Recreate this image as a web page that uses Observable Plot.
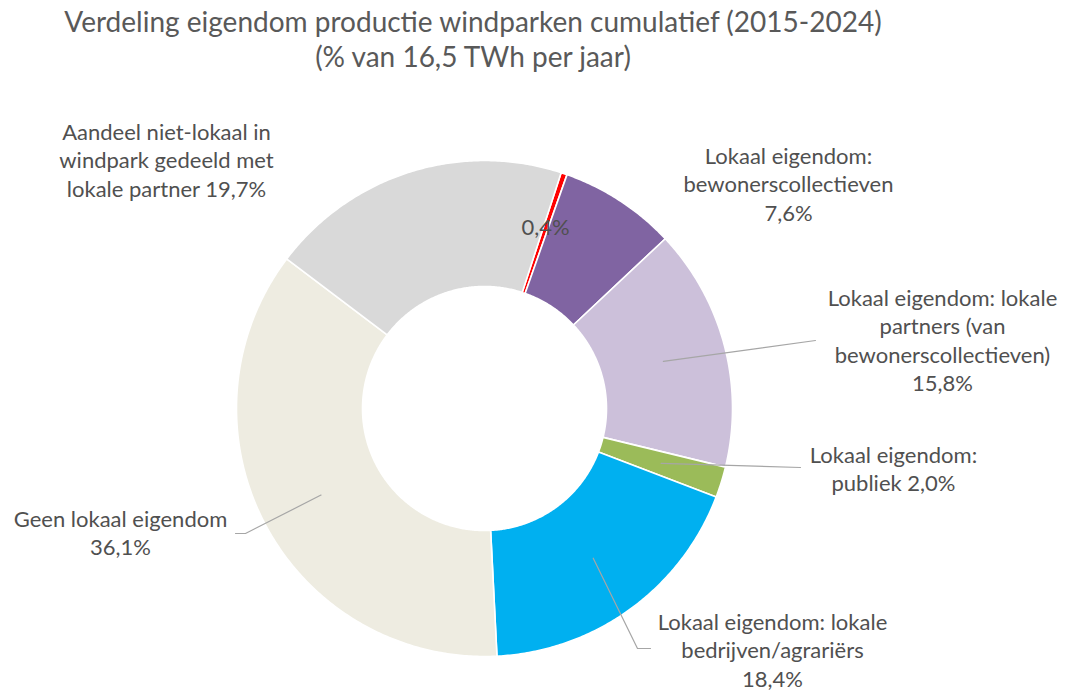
<!DOCTYPE html>
<html><head><meta charset="utf-8">
<script src="https://cdn.jsdelivr.net/npm/d3@7"></script>
<script src="https://cdn.jsdelivr.net/npm/@observablehq/plot@0.6"></script>
<style>
html,body{margin:0;padding:0;background:#fff;}
#title{width:946px;height:90px;box-sizing:border-box;padding-top:4px;text-align:center;color:#595959;font-family:Lato,sans-serif;font-size:28px;line-height:35px;}
#chart svg{display:block;}
</style></head><body>
<div id="title"><div>Verdeling eigendom productie windparken cumulatief (2015-2024)</div><div>(% van 16,5 TWh per jaar)</div></div>
<div id="chart"></div>
<script>
// ---- data (clockwise order) ----
const categories = ["Overig", "Lokaal eigendom: bewonerscollectieven", "Lokaal eigendom: lokale partners (van bewonerscollectieven)", "Lokaal eigendom: publiek", "Lokaal eigendom: lokale bedrijven/agrariërs", "Geen lokaal eigendom", "Aandeel niet-lokaal in windpark gedeeld met lokale partner"];
const values = [0.4, 7.6, 15.8, 2.0, 18.4, 36.1, 19.7];
const colors = ["#FF0000", "#8064A2", "#CCC0DA", "#9BBB59", "#00B0F0", "#EEECE1", "#D9D9D9"];
const labelLines = [
  ["{v}"],
  ["Lokaal eigendom:", "bewonerscollectieven", "{v}"],
  ["Lokaal eigendom: lokale", "partners (van", "bewonerscollectieven)", "{v}"],
  ["Lokaal eigendom:", "publiek {v}"],
  ["Lokaal eigendom: lokale", "bedrijven/agrariërs", "{v}"],
  ["Geen lokaal eigendom", "{v}"],
  ["Aandeel niet-lokaal in", "windpark gedeeld met", "lokale partner {v}"]
];

// ---- layout ----
const W = 1066, H = 604;
const cx = 484, cy = 318, rIn = 122, rOut = 248, startDeg = 18;
const lineGap = 28.5;
// label block centre x / first-line y (svg px)
const labelPos = [[545, 137], [788, 66], [942, 208], [893, 365], [772, 532], [120, 429], [166, 42]];
// leader line bend/end points (svg px), null = no leader
const leaderPts = [null, null, [[815, 250]], [[800, 377]], [[637, 558], [650, 558]], [[245, 443], [235, 443]], null];

const total = d3.sum(values);
const fmt = v => v.toFixed(1).replace(".", ",") + "%";
const rad = d => d * Math.PI / 180;
const pt = (a, r) => [cx + r * Math.sin(rad(a)), cy - r * Math.cos(rad(a))];

// slice polygons
const slicePts = [];
let acc = 0;
const mids = [];
categories.forEach((c, i) => {
  const a0 = startDeg + acc / total * 360;
  acc += values[i];
  const a1 = startDeg + acc / total * 360;
  mids.push((a0 + a1) / 2);
  const n = Math.max(4, Math.ceil((a1 - a0) / 0.5));
  const poly = [];
  for (let k = 0; k <= n; k++) poly.push(pt(a0 + (a1 - a0) * k / n, rOut));
  for (let k = n; k >= 0; k--) poly.push(pt(a0 + (a1 - a0) * k / n, rIn));
  poly.push(poly[0]);
  poly.forEach(([x, y], j) => slicePts.push({cat: c, x, y, j}));
});

// leaders
const leaders = [];
leaderPts.forEach((p, i) => {
  if (!p) return;
  const s = pt(mids[i], (rIn + rOut) / 2);
  [s, ...p].forEach(([x, y]) => leaders.push({cat: categories[i], x, y}));
});

// labels
const labels = [];
labelLines.forEach((lines, i) => {
  lines.forEach((t, k) => labels.push({x: labelPos[i][0], y: labelPos[i][1] + k * lineGap, text: t.replace("{v}", fmt(values[i]))}));
});

const chart = Plot.plot({
  width: W, height: H,
  margin: 0,
  x: {domain: [0, W], range: [0, W], axis: null},
  y: {domain: [0, H], range: [0, H], axis: null},
  color: {domain: categories, range: colors},
  style: {fontFamily: "Lato, sans-serif", background: "#fff"},
  marks: [
    Plot.line(slicePts, {x: "x", y: "y", z: "cat", fill: "cat", stroke: "#fff", strokeWidth: 1.6, curve: "linear"}),
    Plot.line(leaders, {x: "x", y: "y", z: "cat", stroke: "#A6A6A6", strokeWidth: 1.2}),
    Plot.text(labels, {x: "x", y: "y", text: "text", fill: "#505050", fontSize: 22, textAnchor: "middle", lineAnchor: "middle"})
  ]
});
document.getElementById("chart").appendChild(chart);
</script>
</body></html>
